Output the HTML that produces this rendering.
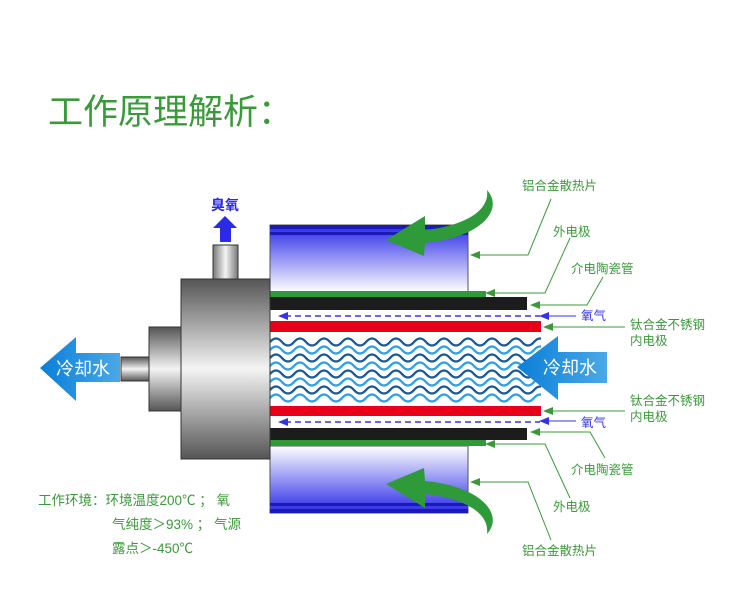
<!DOCTYPE html>
<html><head><meta charset="utf-8"><style>
body{margin:0;background:#fff;width:750px;height:599px;overflow:hidden;font-family:"Liberation Sans","Noto Sans CJK SC",sans-serif}
</style></head><body>
<svg width="750" height="599" viewBox="0 0 750 599" xmlns="http://www.w3.org/2000/svg" style="position:absolute;left:0;top:0">
<defs>
<linearGradient id="rt" x1="0" y1="0" x2="0" y2="1"><stop offset="0" stop-color="#2a2ae8"/><stop offset="1" stop-color="#ffffff"/></linearGradient>
<linearGradient id="rb" x1="0" y1="1" x2="0" y2="0"><stop offset="0" stop-color="#2a2ae8"/><stop offset="1" stop-color="#ffffff"/></linearGradient>
<linearGradient id="gr" x1="0" y1="0" x2="0" y2="1"><stop offset="0" stop-color="#555"/><stop offset="0.5" stop-color="#f4f4f4"/><stop offset="1" stop-color="#555"/></linearGradient>
<linearGradient id="grh" x1="0" y1="0" x2="1" y2="0"><stop offset="0" stop-color="#777"/><stop offset="0.5" stop-color="#f4f4f4"/><stop offset="1" stop-color="#777"/></linearGradient>
<linearGradient id="ar" x1="0" y1="0" x2="1" y2="0"><stop offset="0" stop-color="#0a7fd8"/><stop offset="1" stop-color="#4aa8e8"/></linearGradient>
<path id="w" d="M270 340 q6 -7 12 0 t12 0 t12 0 t12 0 t12 0 t12 0 t12 0 t12 0 t12 0 t12 0 t12 0 t12 0 t12 0 t12 0 t12 0 t12 0 t12 0 t12 0 t12 0 t12 0 t12 0 t12 0 t12 0"/>
</defs>
<text x="48" y="124" font-size="35" fill="#3a9a3a">工作原理解析：</text>

<rect x="270" y="225" width="198" height="67" fill="url(#rt)" stroke="#555" stroke-width="1"/>
<rect x="270" y="225" width="198" height="4" fill="#1a1ab8"/><rect x="270" y="232" width="198" height="3" fill="#1a1ab8"/>
<rect x="270" y="446" width="198" height="67" fill="url(#rb)" stroke="#555" stroke-width="1"/>
<rect x="270" y="503" width="198" height="3" fill="#1a1ab8"/><rect x="270" y="509" width="198" height="4" fill="#1a1ab8"/>

<rect x="270" y="291" width="216" height="6" fill="#2e9a3a"/>
<rect x="270" y="297" width="257" height="13" fill="#1c1c1c"/>
<rect x="270" y="321" width="271" height="11" fill="#e8001a"/>
<rect x="270" y="406" width="271" height="10" fill="#e8001a"/>
<rect x="270" y="428" width="257" height="12" fill="#1c1c1c"/>
<rect x="270" y="440" width="216" height="6" fill="#2e9a3a"/>

<line x1="285" y1="316" x2="540" y2="316" stroke="#3333ee" stroke-width="1.5" stroke-dasharray="6,4"/>
<polygon points="278,316 288,312 288,320" fill="#3333ee"/>
<line x1="285" y1="422" x2="540" y2="422" stroke="#3333ee" stroke-width="1.5" stroke-dasharray="6,4"/>
<polygon points="278,422 288,418 288,426" fill="#3333ee"/>

<svg x="270" y="330" width="271" height="76" viewBox="270 330 271 76">
<g fill="none" stroke-width="2.3">
<use href="#w" y="2" stroke="#1a5a9a"/><use href="#w" y="10" stroke="#2aa0e8"/><use href="#w" y="18" stroke="#1a5a9a"/><use href="#w" y="26" stroke="#2aa0e8"/>
<use href="#w" y="34" stroke="#1a5a9a"/><use href="#w" y="42" stroke="#2aa0e8"/><use href="#w" y="50" stroke="#1a5a9a"/><use href="#w" y="58" stroke="#2aa0e8"/>
</g></svg>

<rect x="121" y="357" width="28" height="24" fill="url(#gr)" stroke="#333"/>
<rect x="149" y="327" width="32" height="84" fill="url(#gr)" stroke="#333"/>
<rect x="181" y="279" width="89" height="180" fill="url(#gr)" stroke="#333"/>
<rect x="213" y="245" width="25" height="34" fill="url(#grh)" stroke="#333"/>
<polygon points="225,216 237,228 231,228 231,242 220,242 220,228 213,228" fill="#2a2ae8"/>
<text x="225" y="210" font-size="14" fill="#2a2ae8" text-anchor="middle" font-weight="bold">臭氧</text>

<polygon points="40,368 76,337 76,353 120,353 120,382 76,382 76,401" fill="url(#ar)"/>
<text x="83" y="375" font-size="18" fill="#fff" text-anchor="middle">冷却水</text>
<polygon points="517,367 558,336 558,352 607,352 607,383 558,383 558,400" fill="url(#ar)"/>
<text x="570" y="374" font-size="18" fill="#fff" text-anchor="middle">冷却水</text>

<path d="M487,190 C505,210 480,238 425,243 L424,256 L386,240 L425,216 L425,230 C462,226 490,212 487,190 Z" fill="#2e9a3a"/>
<path d="M487,534 C505,514 480,486 425,481 L424,468 L386,484 L425,508 L425,494 C462,498 490,512 487,534 Z" fill="#2e9a3a"/>

<g stroke="#3a9a3a" stroke-width="1" fill="none">
<polyline points="551,199 528,255 476,255"/>
<polyline points="570,238 545,293 491,293"/>
<polyline points="603,277 587,305 536,305"/>
<polyline points="576,316 545,316" stroke="#3333ee"/>
<polyline points="625,327 549,327"/>
<polyline points="625,411 549,411"/>
<polyline points="576,421 545,421" stroke="#3333ee"/>
<polyline points="605,458 590,432 536,432"/>
<polyline points="570,498 545,444 491,444"/>
<polyline points="551,540 528,482 476,482"/>
</g>
<g fill="#3a9a3a">
<polygon points="470,255 480,251 480,259"/><polygon points="485,293 495,289 495,297"/>
<polygon points="530,305 540,301 540,309"/><polygon points="543,327 553,323 553,331"/>
<polygon points="543,411 553,407 553,415"/><polygon points="530,432 540,428 540,436"/>
<polygon points="485,444 495,440 495,448"/><polygon points="470,482 480,478 480,486"/>
</g>
<g fill="#3333ee"><polygon points="539,316 549,312 549,320"/><polygon points="539,421 549,417 549,425"/></g>

<g font-size="12.5" fill="#3a9a3a">
<text x="522" y="190">铝合金散热片</text>
<text x="553" y="236">外电极</text>
<text x="571" y="273">介电陶瓷管</text>
<text x="581" y="320" fill="#3333ee">氧气</text>
<text x="630" y="329">钛合金不锈钢</text>
<text x="630" y="345">内电极</text>
<text x="630" y="405">钛合金不锈钢</text>
<text x="630" y="421">内电极</text>
<text x="581" y="427" fill="#3333ee">氧气</text>
<text x="571" y="474">介电陶瓷管</text>
<text x="553" y="511">外电极</text>
<text x="522" y="555">铝合金散热片</text>
</g>
<g font-size="13.5" fill="#3a9a3a">
<text x="38" y="505">工作环境：环境温度200℃ ； 氧</text>
<text x="112" y="529">气纯度＞93% ； 气源</text>
<text x="112" y="553">露点＞-450℃</text>
</g>
</svg>
</body></html>
